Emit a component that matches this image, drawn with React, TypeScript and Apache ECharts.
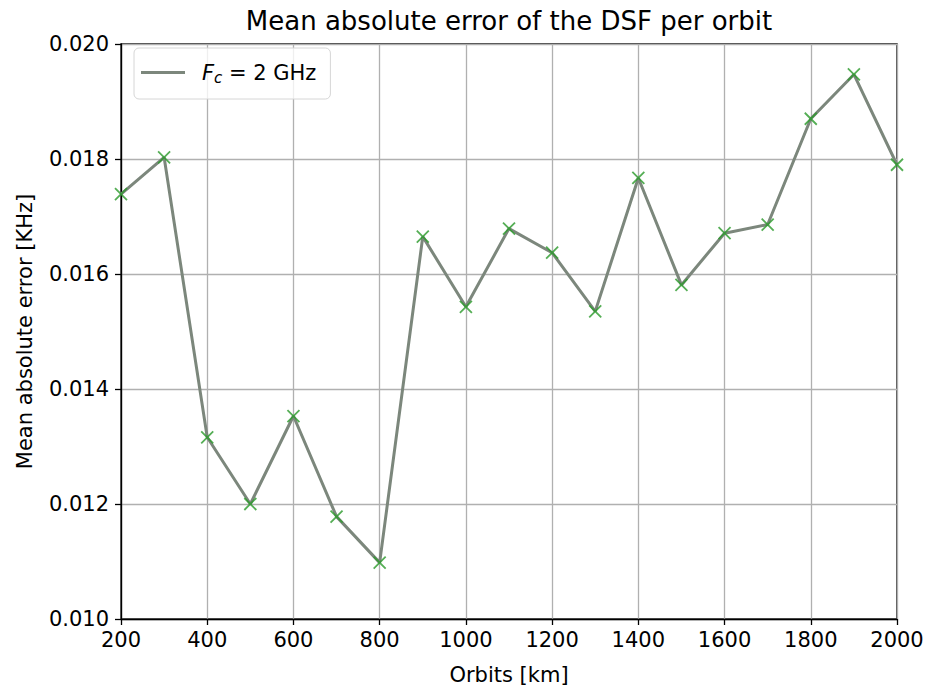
import React, { useEffect, useRef } from "react";
import * as echarts from "echarts";

const orbits = [200, 300, 400, 500, 600, 700, 800, 900, 1000, 1100, 1200, 1300, 1400, 1500, 1600, 1700, 1800, 1900, 2000];
const maeValues = [0.01739, 0.01803, 0.01316, 0.01200, 0.01353, 0.01178, 0.01098, 0.01665, 0.01543, 0.01679, 0.01637, 0.01535, 0.01767, 0.01581, 0.01671, 0.01686, 0.01870, 0.01947, 0.01790];
const titleText = "Mean absolute error of the DSF per orbit";
const xName = "Orbits [km]";
const yName = "Mean absolute error [KHz]";
const seriesName = "Fc = 2 GHz";

const FONT = "DejaVu Sans";

export default function App() {
  const ref = useRef<HTMLDivElement>(null);
  useEffect(() => {
    if (!ref.current) return;
    const chart = echarts.init(ref.current, null, { renderer: "svg" });
    const pts = orbits.map((x, i) => [x, maeValues[i]]);
    chart.setOption({
      animation: false,
      backgroundColor: "#ffffff",
      textStyle: { fontFamily: FONT },
      graphic: [
        {
          type: "text",
          x: 509,
          y: 21,
          style: {
            text: titleText,
            fontFamily: FONT,
            fontSize: 26,
            fill: "#000",
            textAlign: "center",
            textVerticalAlign: "middle",
          },
        },
      ],
      grid: {
        left: 121,
        right: 30,
        top: 44,
        bottom: 70,
        show: true,
        borderColor: "#000",
        borderWidth: 1.3,
        backgroundColor: "transparent",
      },
      legend: {
        left: 134,
        top: 48,
        orient: "vertical",
        padding: [14, 14, 14, 7],
        itemWidth: 44,
        itemHeight: 3,
        backgroundColor: "rgba(255,255,255,0.8)",
        borderColor: "#d6d6d6",
        borderWidth: 1,
        borderRadius: 5,
        data: [{ name: seriesName, icon: "rect" }],
        formatter: () => "{i|F}{s|c}{n| = 2 GHz}",
        textStyle: {
          color: "#000",
          fontFamily: FONT,
          fontSize: 21,
          padding: [0, 0, 0, 12],
          rich: {
            i: { fontStyle: "italic", fontSize: 21, fontFamily: FONT, color: "#000" },
            s: { fontStyle: "italic", fontSize: 15, fontFamily: FONT, color: "#000", padding: [10, 0, 0, 0] },
            n: { fontSize: 21, fontFamily: FONT, color: "#000" },
          },
        },
      },
      xAxis: {
        type: "value",
        min: 200,
        max: 2000,
        interval: 200,
        name: xName,
        nameLocation: "middle",
        nameGap: 45,
        nameTextStyle: { fontFamily: FONT, fontSize: 21, color: "#000" },
        axisLine: { show: true, onZero: false, lineStyle: { color: "#000", width: 1.3 } },
        axisTick: { show: true, length: 6, lineStyle: { color: "#000", width: 1.3 } },
        axisLabel: {
          color: "#000",
          fontFamily: FONT,
          fontSize: 21,
          margin: 10,
          formatter: (v: number) => String(v),
        },
        splitLine: { show: true, lineStyle: { color: "#b0b0b0", width: 1.3 } },
      },
      yAxis: {
        type: "value",
        min: 0.01,
        max: 0.02,
        interval: 0.002,
        name: yName,
        nameLocation: "middle",
        nameRotate: 90,
        nameGap: 86,
        nameTextStyle: { fontFamily: FONT, fontSize: 21, color: "#000" },
        axisLine: { show: true, onZero: false, lineStyle: { color: "#000", width: 1.3 } },
        axisTick: { show: true, length: 6, lineStyle: { color: "#000", width: 1.3 } },
        axisLabel: {
          color: "#000",
          fontFamily: FONT,
          fontSize: 21,
          margin: 12,
          formatter: (v: number) => v.toFixed(3),
        },
        splitLine: { show: true, lineStyle: { color: "#b0b0b0", width: 1.3 } },
      },
      series: [
        {
          name: seriesName,
          type: "line",
          data: pts,
          symbol: "none",
          lineStyle: { color: "#7c877c", width: 3 },
          itemStyle: { color: "#7c877c" },
          z: 3,
        },
        {
          name: "markers",
          type: "scatter",
          data: pts,
          symbol: "path://M0,0L10,10M10,0L0,10",
          symbolSize: 12,
          itemStyle: { color: "none", borderColor: "#2a9a2a", borderWidth: 1.8 },
          z: 4,
          clip: false,
        },
      ],
    });
    return () => chart.dispose();
  }, []);
  return (
    <div
      ref={ref}
      style={{ position: "absolute", left: 0, top: 0, width: 927, height: 690 }}
    />
  );
}
